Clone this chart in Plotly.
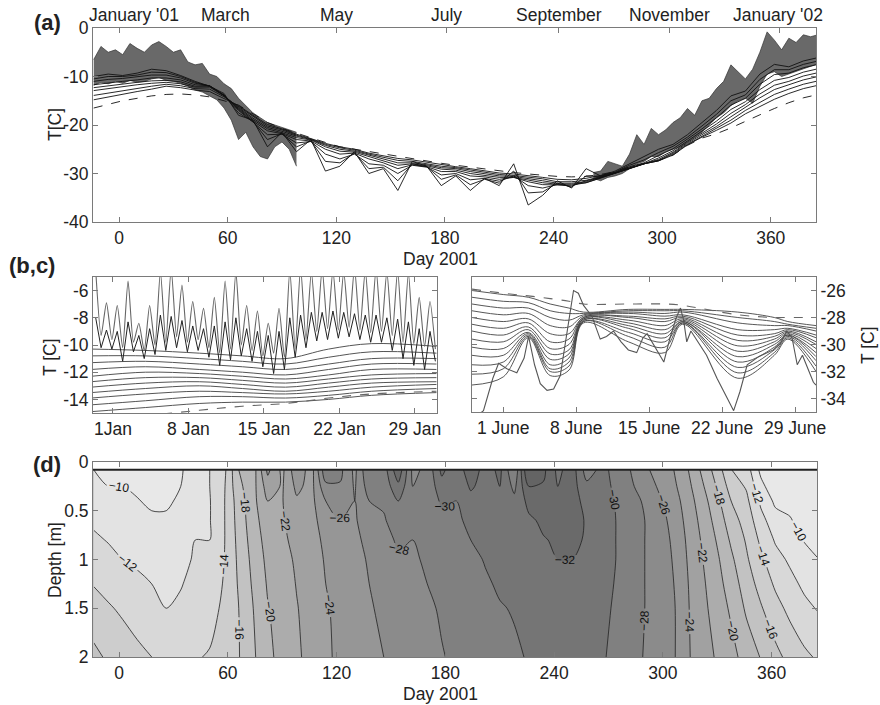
import plotly.graph_objects as go

# ---------------- Panel (a) & (d): temperature at depth vs day ----------------
days = [-14, -6, 2, 10, 18, 26, 34, 42, 50, 58, 66, 74, 82, 90, 98, 106, 114, 122, 130, 138,
        146, 154, 162, 170, 178, 186, 194, 202, 210, 218, 226, 234, 242, 250, 258, 266, 274, 282, 290, 298,
        306, 314, 322, 330, 338, 346, 354, 362, 370, 378, 385]
depths = [0.08, 0.25, 0.4, 0.6, 0.8, 1.0, 1.25, 1.5, 2.0]

T_d008 = [-10.0, -9.5, -9.8, -9.3, -8.5, -8.8, -9.8, -11.0, -12.0, -13.5, -18.0, -19.0, -24.5, -21.5, -25.5, -23.0, -29.5, -28.5, -25.5, -30.0,
          -29.0, -33.5, -27.5, -28.5, -32.5, -30.5, -33.5, -31.0, -32.5, -28.0, -36.5, -34.5, -31.5, -33.0, -29.0, -30.5, -29.5, -28.0, -26.5, -25.0,
          -24.0, -22.0, -19.5, -17.0, -14.0, -13.0, -9.5, -7.5, -8.0, -6.8, -6.2]
T_d025 = [-10.5, -10.0, -10.0, -9.7, -9.1, -9.2, -10.0, -11.2, -12.0, -13.8, -17.5, -19.3, -23.0, -21.8, -24.5, -23.3, -27.5, -27.8, -25.8, -29.0,
          -28.7, -31.5, -28.0, -28.6, -31.2, -30.3, -32.3, -31.2, -32.0, -29.5, -34.0, -33.8, -32.0, -32.8, -30.5, -30.6, -29.7, -28.3, -27.2, -25.7,
          -24.4, -22.5, -20.2, -17.8, -15.0, -13.8, -10.6, -8.6, -8.6, -7.5, -6.9]
T_d040 = [-11.0, -10.6, -10.4, -10.1, -9.7, -9.7, -10.3, -11.4, -11.9, -13.9, -17.0, -19.4, -22.0, -21.9, -23.7, -23.4, -26.0, -27.0, -26.0, -28.0,
          -28.3, -30.0, -28.3, -28.7, -30.3, -30.0, -31.3, -31.0, -31.6, -30.5, -32.5, -33.0, -32.3, -32.6, -31.5, -30.8, -29.9, -28.6, -27.8, -26.3,
          -24.9, -22.9, -20.8, -18.5, -15.9, -14.5, -11.6, -9.6, -9.3, -8.2, -7.6]
T_d060 = [-11.7, -11.3, -11.0, -10.7, -10.3, -10.3, -10.7, -11.7, -11.9, -13.9, -16.8, -19.2, -21.2, -21.8, -23.0, -23.3, -25.0, -26.0, -25.8, -27.0,
          -27.8, -29.0, -28.2, -28.6, -29.6, -29.6, -30.5, -30.7, -31.2, -30.8, -31.7, -32.3, -32.3, -32.4, -31.9, -30.9, -30.0, -28.9, -28.0, -26.8,
          -25.3, -23.3, -21.3, -19.2, -16.8, -15.2, -12.7, -10.8, -10.2, -9.1, -8.5]
T_d080 = [-12.3, -11.9, -11.5, -11.2, -10.9, -10.8, -11.1, -12.0, -12.0, -13.9, -16.6, -18.9, -20.8, -21.6, -22.6, -23.1, -24.5, -25.4, -25.6, -26.5,
          -27.3, -28.3, -28.0, -28.4, -29.1, -29.3, -30.0, -30.4, -30.8, -30.8, -31.3, -31.9, -32.2, -32.2, -31.9, -30.9, -30.0, -29.0, -28.0, -27.1,
          -25.6, -23.6, -21.7, -19.8, -17.6, -15.8, -13.6, -11.8, -11.0, -9.9, -9.3]
T_d100 = [-12.9, -12.5, -12.0, -11.7, -11.4, -11.2, -11.5, -12.2, -12.2, -14.0, -16.4, -18.6, -20.5, -21.3, -22.3, -23.0, -24.2, -25.0, -25.4, -26.2,
          -27.0, -27.8, -27.8, -28.2, -28.8, -29.0, -29.6, -30.1, -30.5, -30.6, -31.0, -31.5, -32.0, -32.0, -31.7, -30.8, -30.0, -29.0, -28.0, -27.3,
          -25.8, -23.8, -22.0, -20.3, -18.3, -16.3, -14.4, -12.7, -11.7, -10.7, -10.1]
T_d125 = [-13.9, -13.4, -12.9, -12.4, -12.0, -11.6, -11.9, -12.5, -12.6, -14.2, -16.2, -18.3, -20.2, -21.0, -22.1, -22.9, -24.0, -24.7, -25.2, -26.0,
          -26.7, -27.3, -27.5, -28.0, -28.5, -28.8, -29.3, -29.8, -30.2, -30.4, -30.7, -31.1, -31.7, -31.7, -31.4, -30.6, -29.9, -28.9, -28.0, -27.4,
          -26.0, -24.0, -22.3, -20.7, -19.0, -17.0, -15.3, -13.7, -12.6, -11.6, -11.0]
T_d150 = [-14.8, -14.2, -13.7, -13.1, -12.6, -12.0, -12.3, -12.8, -13.1, -14.5, -16.0, -18.0, -19.9, -20.8, -21.9, -22.8, -23.8, -24.5, -25.0, -25.8,
          -26.4, -26.9, -27.2, -27.7, -28.2, -28.6, -29.0, -29.5, -29.9, -30.1, -30.4, -30.8, -31.2, -31.3, -31.0, -30.4, -29.8, -28.8, -28.0, -27.4,
          -26.2, -24.1, -22.5, -21.1, -19.6, -17.7, -16.2, -14.7, -13.5, -12.5, -11.9]
T_d200 = [-16.5, -15.7, -15.0, -14.5, -14.0, -13.7, -13.6, -13.8, -14.2, -15.0, -15.9, -17.7, -19.5, -20.7, -21.7, -22.6, -23.6, -24.5, -25.0, -25.5,
          -26.0, -26.5, -27.0, -27.4, -27.9, -28.3, -28.7, -29.1, -29.5, -29.8, -30.1, -30.4, -30.6, -30.7, -30.6, -30.2, -29.6, -28.6, -27.9, -27.3,
          -26.2, -24.2, -22.7, -21.8, -20.6, -19.2, -17.9, -16.6, -15.4, -14.4, -13.8]
T_rows = [T_d008, T_d025, T_d040, T_d060, T_d080, T_d100, T_d125, T_d150, T_d200]
for r in T_rows:
    assert len(r) == len(days), len(r)

# near-surface diurnal envelope (daily maxima / minima), winter->spring and autumn->winter
band1_days = [-14, -10, -6, -2, 2, 6, 10, 14, 18, 22, 26, 30, 34, 38, 42, 46, 50, 54, 58, 62, 66, 70, 74, 78, 82, 86, 90, 94, 98]
band1_hi = [-6.5, -3.8, -5.0, -4.5, -5.5, -3.2, -4.2, -5.0, -3.5, -2.8, -3.8, -5.0, -4.5, -7.0, -7.6, -7.3, -9.5, -10.0, -11.5, -12.5,
            -14.5, -16.0, -17.5, -18.5, -19.5, -20.0, -20.5, -21.0, -21.5]
band1_lo = [-11.8, -11.2, -11.5, -11.0, -11.4, -10.8, -11.2, -11.0, -10.5, -10.2, -10.8, -11.0, -11.4, -12.0, -12.8, -13.2, -14.0, -14.8, -16.5, -19.0,
            -23.0, -21.5, -24.5, -26.5, -27.0, -24.5, -23.5, -25.0, -28.5]
band2_days = [262, 266, 270, 274, 278, 282, 286, 290, 294, 298, 302, 306, 310, 314, 318, 322, 326, 330, 334, 338, 342, 346, 350, 354, 358, 362, 366, 370, 374, 378, 382, 385]
band2_hi = [-29.8, -29.5, -27.5, -28.0, -28.5, -26.0, -22.0, -24.0, -20.7, -22.0, -21.0, -19.5, -18.5, -16.6, -18.0, -15.0, -14.5, -12.5, -11.0, -7.6,
            -9.0, -10.5, -8.5, -5.0, -0.8, -2.5, -4.5, -2.1, -3.0, -1.4, -1.8, -1.5]
band2_lo = [-31.0, -31.5, -30.8, -30.5, -30.0, -29.0, -28.0, -27.5, -26.5, -26.5, -25.5, -25.0, -24.5, -23.5, -22.5, -21.5, -20.0, -18.5, -17.5, -16.0,
            -15.0, -14.5, -15.5, -12.0, -9.5, -9.0, -10.0, -9.5, -9.0, -8.5, -8.0, -7.5]

a_tick_vals = [-40, -30, -20, -10, 0]
a_tick_text = ['-40', '-30', '-20', '-10', '0']
day_ticks = [0, 60, 120, 180, 240, 300, 360]
month_days = [0, 59, 120, 181, 243, 304, 365]
month_label_days = [8.5, 59, 120, 181, 243, 304, 364]
month_names = ["January '01", 'March', 'May', 'July', 'September', 'November', "January '02"]

# ---------------- Panel (b): January ----------------
b_peak_day = [-0.6, 0.4, 1.4, 2.4, 3.4, 4.4, 5.4, 6.4, 7.4, 8.4, 9.4, 10.4, 11.4, 12.4, 13.4, 14.4,
              15.4, 16.4, 17.4, 18.4, 19.4, 20.4, 21.4, 22.4, 23.4, 24.4, 25.4, 26.4, 27.4, 28.4, 29.4, 30.4]
b_trough_day = [-0.1, 0.9, 1.9, 2.9, 3.9, 4.9, 5.9, 6.9, 7.9, 8.9, 9.9, 10.9, 11.9, 12.9, 13.9, 14.9,
                15.9, 16.9, 17.9, 18.9, 19.9, 20.9, 21.9, 22.9, 23.9, 24.9, 25.9, 26.9, 27.9, 28.9, 29.9, 30.9]
b_surf_peak = [-4.5, -6.9, -7.1, -5.3, -8.4, -7.1, -4.6, -4.4, -5.6, -6.8, -7.3, -6.5, -5.3, -4.6, -7.1, -7.5,
               -8.4, -7.3, -4.5, -4.3, -4.6, -4.4, -4.5, -4.6, -4.3, -4.5, -4.4, -4.6, -4.5, -4.7, -6.5, -6.8]
b_surf_trough = [-9.3, -9.6, -10.2, -9.8, -10.4, -10.0, -9.8, -9.4, -9.8, -9.6, -10.2, -10.6, -10.3, -10.0, -10.4, -10.8,
                 -10.6, -10.9, -10.3, -9.6, -9.0, -8.8, -8.9, -8.7, -8.9, -9.1, -9.0, -9.3, -9.8, -9.9, -10.1, -10.3]
b_sub_peak = [-8.0, -8.9, -9.0, -8.3, -9.3, -8.8, -7.8, -7.9, -8.2, -8.6, -8.8, -8.6, -8.3, -8.0, -8.8, -9.0,
              -9.3, -9.0, -8.0, -7.8, -7.6, -7.6, -7.5, -7.6, -7.7, -7.8, -7.8, -8.0, -8.1, -8.3, -8.8, -9.0]
b_sub_trough = [-10.2, -10.3, -11.2, -10.5, -11.0, -10.7, -10.4, -10.2, -10.5, -10.4, -10.9, -11.5, -11.1, -10.8, -11.2, -11.6,
                -12.1, -11.8, -10.9, -10.2, -9.7, -9.6, -9.5, -9.4, -9.6, -9.8, -9.8, -10.4, -11.0, -11.5, -11.8, -11.2]
b_key_day = [-1, 4, 9, 13, 17, 21, 25, 31]
b_lines = [
    [-10.3, -10.4, -10.6, -10.8, -11.0, -10.3, -9.9, -10.1],
    [-10.8, -10.8, -11.0, -11.2, -11.4, -10.9, -10.5, -10.6],
    [-11.3, -11.2, -11.4, -11.6, -11.8, -11.4, -11.0, -11.0],
    [-11.8, -11.6, -11.8, -12.0, -12.2, -11.8, -11.4, -11.4],
    [-12.3, -12.0, -12.1, -12.3, -12.5, -12.2, -11.8, -11.8],
    [-12.7, -12.4, -12.4, -12.6, -12.8, -12.5, -12.2, -12.1],
    [-13.1, -12.8, -12.7, -12.9, -13.1, -12.8, -12.5, -12.4],
    [-13.5, -13.2, -13.0, -13.2, -13.4, -13.1, -12.8, -12.7],
    [-13.9, -13.6, -13.4, -13.5, -13.6, -13.4, -13.1, -12.9],
    [-14.4, -14.1, -13.8, -13.8, -13.9, -13.7, -13.4, -13.2],
    [-14.9, -14.6, -14.3, -14.2, -14.2, -14.0, -13.7, -13.5],
]
b_dash = [-15.6, -15.2, -14.8, -14.5, -14.3, -13.9, -13.6, -13.4]
b_tick_vals = [-14, -12, -10, -8, -6]
b_tick_text = ['-14', '-12', '-10', '-8', '-6']
b_x_ticks = [1, 8, 15, 22, 29]
b_x_text = ['1Jan', '8 Jan', '15 Jan', '22 Jan', '29 Jan']

# ---------------- Panel (c): June ----------------
c_surf_day = [-1.85, -0.9, 0.0, 0.55, 1.35, 2.3, 3.0, 3.43, 4.0, 4.55, 5.2, 5.83, 6.47, 7.1, 7.74, 8.2, 8.7, 9.5,
              10.3, 10.9, 11.57, 12.3, 13.0, 13.8, 14.4, 14.8, 15.5, 16.4, 17.0, 17.6, 18.0, 18.3, 18.6, 19.0, 20.5,
              21.5, 22.5, 23.1, 23.7, 24.4, 25.5, 26.9, 27.6, 28.2, 28.7, 29.2, 29.7, 30.3, 30.75, 31.0]
c_surf_T = [-35.5, -34.9, -32.5, -31.4, -31.8, -32.1, -31.0, -29.4, -31.5, -32.9, -33.4, -33.3, -32.3, -29.0, -26.0, -26.2, -27.1, -27.9,
            -29.6, -29.4, -29.0, -29.8, -30.4, -30.6, -29.5, -29.2, -30.1, -31.3, -29.5, -28.0, -27.3, -28.2, -29.8, -29.0, -30.8,
            -32.5, -34.0, -34.9, -33.5, -31.5, -30.9, -30.4, -29.9, -29.0, -29.5, -31.5, -30.8, -32.0, -32.8, -33.0]
c_key_day = [-2, 1.0, 3.4, 5.5, 7.3, 8.7, 13, 16.5, 18.2, 23.5, 27, 28.3, 31]
c_cols = [
    [-26.0, -26.5, -27.0, -27.5, -28.0, -28.5, -29.0, -29.6, -30.2, -30.8, -31.5, -32.2, -33.0],
    [-26.3, -26.8, -27.3, -27.8, -28.3, -28.8, -29.3, -29.8, -30.3, -30.8, -31.3, -31.8, -32.4],
    [-26.5, -26.9, -27.3, -27.7, -28.1, -28.4, -28.7, -28.9, -29.1, -29.2, -29.3, -29.4, -29.5],
    [-27.0, -27.5, -28.0, -28.6, -29.2, -29.8, -30.3, -30.7, -31.1, -31.5, -31.8, -32.0, -32.3],
    [-27.3, -27.7, -28.2, -28.7, -29.2, -29.6, -30.0, -30.4, -30.7, -31.0, -31.3, -31.6, -31.9],
    [-27.6, -27.7, -27.8, -27.9, -28.0, -28.0, -28.1, -28.1, -28.2, -28.2, -28.3, -28.3, -28.4],
    [-27.4, -27.5, -27.6, -27.7, -27.9, -28.0, -28.2, -28.4, -28.6, -28.8, -29.1, -29.4, -29.8],
    [-27.4, -27.5, -27.7, -27.9, -28.1, -28.3, -28.6, -28.9, -29.2, -29.5, -29.8, -30.2, -30.6],
    [-27.4, -27.5, -27.6, -27.8, -27.9, -28.0, -28.1, -28.2, -28.3, -28.3, -28.4, -28.4, -28.5],
    [-27.6, -28.0, -28.4, -28.9, -29.3, -29.7, -30.1, -30.5, -30.9, -31.3, -31.7, -32.1, -32.5],
    [-28.0, -28.3, -28.6, -28.9, -29.2, -29.4, -29.6, -29.8, -30.0, -30.2, -30.4, -30.6, -30.8],
    [-28.3, -28.5, -28.6, -28.8, -28.9, -29.0, -29.1, -29.2, -29.3, -29.3, -29.4, -29.5, -29.6],
    [-28.6, -28.8, -29.0, -29.3, -29.5, -29.8, -30.0, -30.3, -30.6, -30.9, -31.2, -31.6, -32.0],
]
c_dash = [-25.9, -26.2, -26.4, -26.6, -26.8, -27.0, -27.0, -27.0, -27.1, -27.8, -28.0, -28.0, -28.0]
c_tick_vals = [-34, -32, -30, -28, -26]
c_tick_text = ['-34', '-32', '-30', '-28', '-26']
c_x_ticks = [1, 8, 15, 22, 29]
c_x_text = ['1 June', '8 June', '15 June', '22 June', '29 June']

d_tick_vals = [0, 0.5, 1, 1.5, 2]
d_tick_text = ['0', '0.5', '1', '1.5', '2']

# ------------------------------------------------------------------
FONT = 'Liberation Sans, Arial, sans-serif'
AX = '#7a7a7a'
TF = 17.5
fig = go.Figure()

# (a) near-surface envelope first, depth lines on top
for bd, lo, hi in [(band1_days, band1_lo, band1_hi), (band2_days, band2_lo, band2_hi)]:
    fig.add_trace(go.Scatter(x=bd, y=lo, mode='lines', xaxis='x', yaxis='y',
                             line=dict(color='#333', width=0.7), hoverinfo='skip'))
    fig.add_trace(go.Scatter(x=bd, y=hi, mode='lines', xaxis='x', yaxis='y', fill='tonexty',
                             fillcolor='rgb(105,105,105)', line=dict(color='#333', width=0.7), hoverinfo='skip'))
for i, row in enumerate(T_rows):
    last = i == len(T_rows) - 1
    fig.add_trace(go.Scatter(x=days, y=row, mode='lines', xaxis='x', yaxis='y',
                             line=dict(color='#111', width=0.9, dash='dash' if last else 'solid'),
                             hoverinfo='skip'))
# invisible trace to hold the top month axis
fig.add_trace(go.Scatter(x=[month_days[0]], y=[a_tick_vals[0]], xaxis='x5', yaxis='y', mode='markers',
                         marker=dict(opacity=0), hoverinfo='skip'))

# (b)
b_t, b_v, b_v2 = [], [], []
for p, t, a1, a2, s1, s2 in zip(b_peak_day, b_trough_day, b_surf_peak, b_surf_trough, b_sub_peak, b_sub_trough):
    b_t += [p, t]
    b_v += [a1, a2]
    b_v2 += [s1, s2]
for ln in b_lines:
    fig.add_trace(go.Scatter(x=b_key_day, y=ln, mode='lines', xaxis='x2', yaxis='y2', line_shape='spline',
                             line=dict(color='#555', width=1), hoverinfo='skip'))
fig.add_trace(go.Scatter(x=b_key_day, y=b_dash, mode='lines', xaxis='x2', yaxis='y2', line_shape='spline',
                         line=dict(color='#666', width=1.1, dash='dash'), hoverinfo='skip'))
fig.add_trace(go.Scatter(x=b_t, y=b_v2, mode='lines', xaxis='x2', yaxis='y2',
                         line=dict(color='#222', width=1), hoverinfo='skip'))
fig.add_trace(go.Scatter(x=b_t, y=b_v, mode='lines', xaxis='x2', yaxis='y2', line_shape='spline',
                         line=dict(color='#666', width=1.1, smoothing=0.6), hoverinfo='skip'))

# (c)
c_lines = [list(v) for v in zip(*c_cols)]
for ln in c_lines:
    fig.add_trace(go.Scatter(x=c_key_day, y=ln, mode='lines', xaxis='x3', yaxis='y3', line_shape='spline',
                             line=dict(color='#444', width=0.9), hoverinfo='skip'))
fig.add_trace(go.Scatter(x=c_key_day, y=c_dash, mode='lines', xaxis='x3', yaxis='y3', line_shape='spline',
                         line=dict(color='#666', width=1.1, dash='dash'), hoverinfo='skip'))
fig.add_trace(go.Scatter(x=c_surf_day, y=c_surf_T, mode='lines', xaxis='x3', yaxis='y3',
                         line=dict(color='#555', width=1.1), hoverinfo='skip'))

# (d) contour
fig.add_trace(go.Contour(x=days, y=depths, z=T_rows, xaxis='x4', yaxis='y4',
                         zmin=-34, zmax=-8, autocontour=False,
                         contours=dict(start=-34, end=-10, size=2, coloring='fill', showlabels=True,
                                       labelfont=dict(size=12, color='#111', family=FONT)),
                         colorscale=[[0, 'rgb(100,100,100)'], [1, 'rgb(232,232,232)']],
                         showscale=False, line=dict(color='#222', width=0.8), line_smoothing=0.85,
                         hoverinfo='skip'))

def px_x(p):
    return p / 880.0

def px_y(p):
    return 1 - p / 705.0

common = dict(showgrid=False, zeroline=False, showline=True, linecolor=AX, linewidth=1,
              ticks='inside', tickcolor=AX, ticklen=5, tickfont=dict(size=TF, color='#222', family=FONT))

dom_a_x = [px_x(93), px_x(816)]
fig.update_layout(
    width=880, height=705, margin=dict(l=0, r=0, t=0, b=0, autoexpand=False),
    paper_bgcolor='white', plot_bgcolor='white', showlegend=False,
    font=dict(family=FONT, size=TF, color='#222'),
    xaxis=dict(domain=dom_a_x, anchor='y', range=[-14.4, 385], tickvals=day_ticks,
               ticktext=[str(v) for v in day_ticks], mirror=True, **common),
    xaxis5=dict(domain=dom_a_x, anchor='y', overlaying='x', side='top', range=[-14.4, 385],
                tickvals=month_days, showticklabels=False, showgrid=False, zeroline=False,
                showline=False, ticks='inside', tickcolor=AX, ticklen=5),
    yaxis=dict(domain=[px_y(222), px_y(28)], anchor='x', range=[-40, 0], tickvals=a_tick_vals,
               ticktext=a_tick_text, mirror='ticks', **common),
    xaxis2=dict(domain=[px_x(93), px_x(437)], anchor='y2', range=[-0.85, 31.05], tickvals=b_x_ticks,
                ticktext=b_x_text, mirror='ticks', **common),
    yaxis2=dict(domain=[px_y(413), px_y(277)], anchor='x2', range=[-15, -5], tickvals=b_tick_vals,
                ticktext=b_tick_text, mirror='ticks', **common),
    xaxis3=dict(domain=[px_x(472), px_x(816)], anchor='y3', range=[-2.0, 31.0], tickvals=c_x_ticks,
                ticktext=c_x_text, mirror='ticks', **common),
    yaxis3=dict(domain=[px_y(412), px_y(277)], anchor='x3', side='right', range=[-35, -25],
                tickvals=c_tick_vals, ticktext=c_tick_text, mirror='ticks', **common),
    xaxis4=dict(domain=[px_x(93), px_x(817)], anchor='y4', range=[-14.4, 385], tickvals=day_ticks,
                ticktext=[str(v) for v in day_ticks], mirror='ticks', **common),
    yaxis4=dict(domain=[px_y(657), px_y(462)], anchor='x4', range=[2, 0], tickvals=d_tick_vals,
                ticktext=d_tick_text, mirror='ticks', **common),
)

# top edge of the contour field (first sensor depth)
fig.add_shape(type='line', xref='x4', yref='y4', x0=days[0] - 1, x1=days[-1], y0=depths[0], y1=depths[0],
              line=dict(color='#222', width=2))

ann = []
for d, name in zip(month_label_days, month_names):
    ann.append(dict(x=d, y=px_y(15), xref='x', yref='paper', text=name, showarrow=False,
                    font=dict(size=TF, color='#222', family=FONT), xanchor='center', yanchor='middle'))

def lab(text, x, y, size=TF, angle=0, bold=False):
    t = '<b>%s</b>' % text if bold else text
    ann.append(dict(x=px_x(x), y=px_y(y), xref='paper', yref='paper', text=t, showarrow=False,
                    textangle=angle, font=dict(size=size, color='#222', family=FONT),
                    xanchor='center', yanchor='middle'))

lab('(a)', 47, 22, size=22, bold=True)
lab('(b,c)', 32, 265, size=22, bold=True)
lab('(d)', 47, 465, size=22, bold=True)
lab('T[C]', 55, 125, angle=-90)
lab('Day 2001', 440, 259)
lab('T [C]', 50, 357, angle=-90)
lab('T [C]', 868, 345, angle=-90)
lab('Depth [m]', 55, 560, angle=-90)
lab('Day 2001', 440, 694)
fig.update_layout(annotations=ann)

fig.write_html('out.html', config={'displayModeBar': False},
               post_script="document.body.style.margin='0px';document.body.style.padding='0px';")
